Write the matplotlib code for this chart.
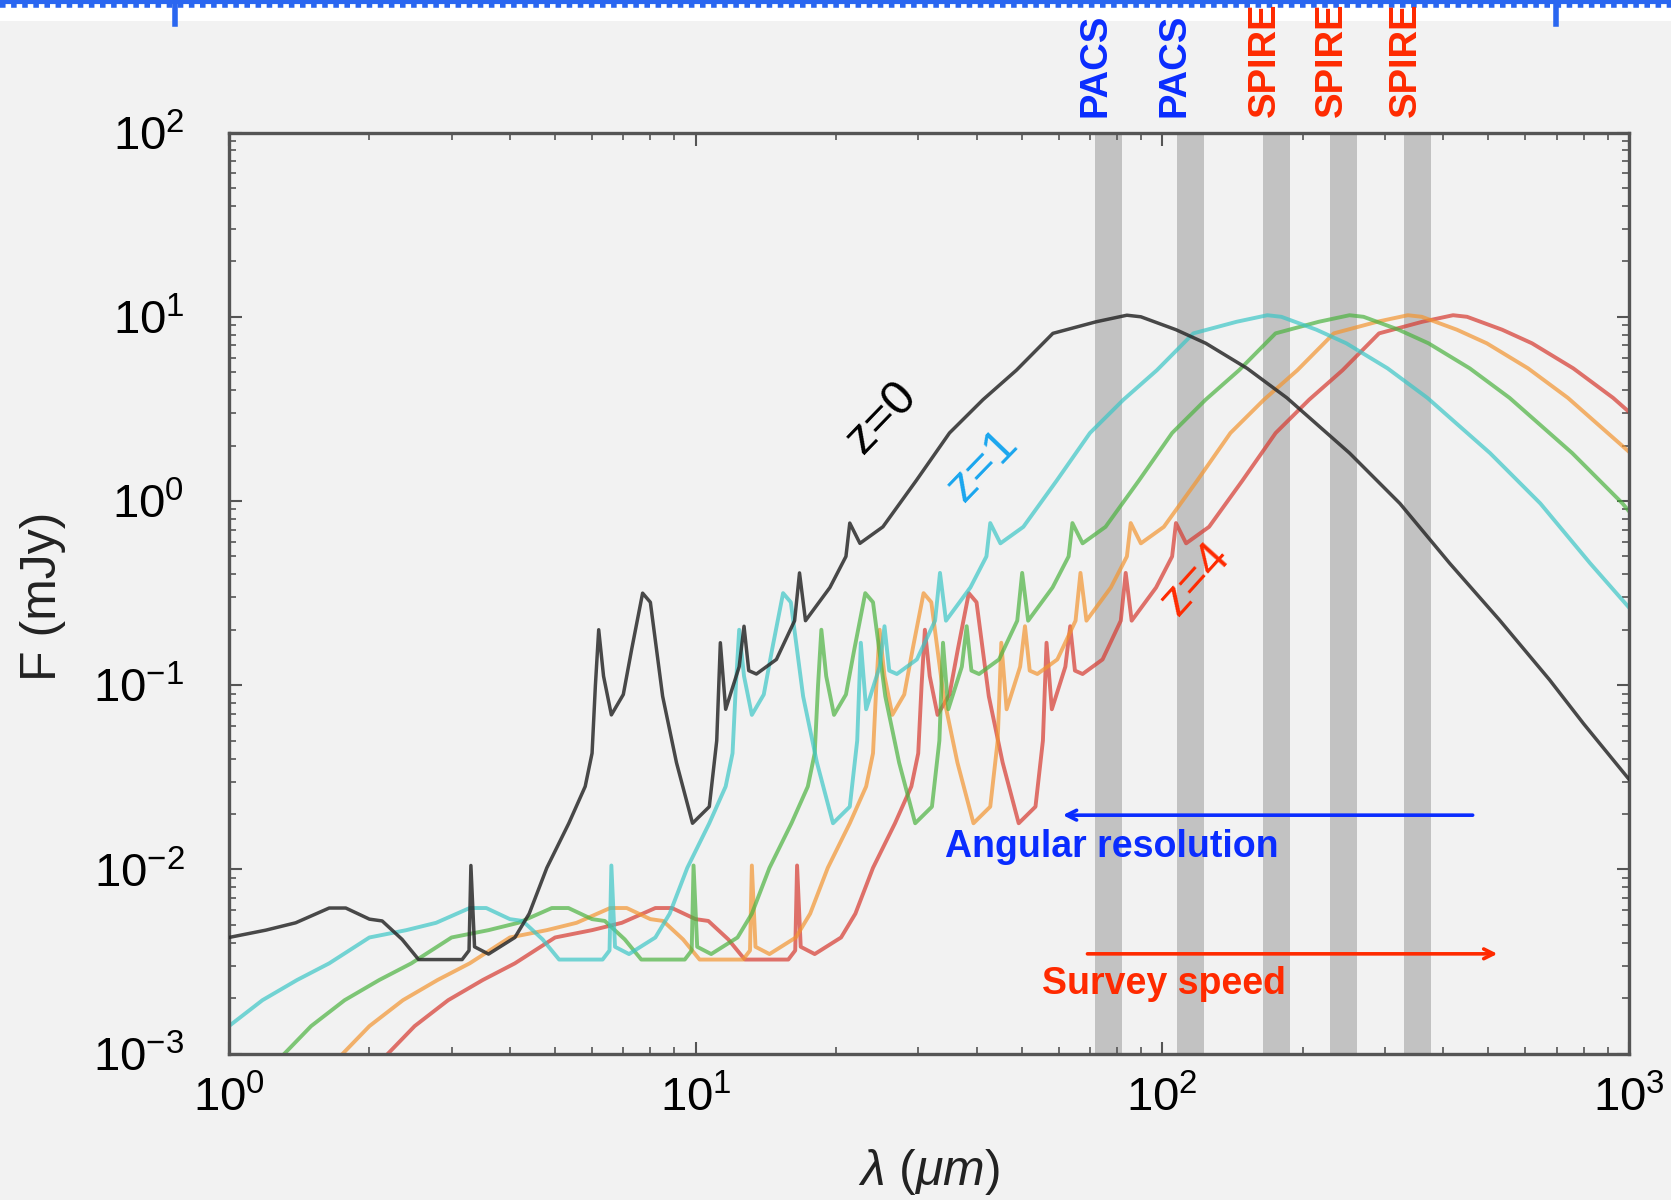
import matplotlib
matplotlib.use("Agg")
import matplotlib.pyplot as plt
from matplotlib.patches import Rectangle
from matplotlib.lines import Line2D

plt.rcParams["font.family"] = ["Liberation Sans", "DejaVu Sans"]
plt.rcParams["mathtext.fontset"] = "custom"
plt.rcParams["mathtext.rm"] = "Liberation Sans"
plt.rcParams["mathtext.it"] = "Liberation Sans:italic"
plt.rcParams["mathtext.bf"] = "Liberation Sans:bold"

# SED flux (mJy), shared by all redshifts (curves are the same template, shifted in wavelength)
sed_flux = [7.1e-4, 9.5e-4, 1.41e-3, 1.95e-3, 2.51e-3, 3.09e-3, 4.27e-3, 4.68e-3, 5.13e-3, 6.17e-3,
            6.17e-3, 5.37e-3, 5.25e-3, 4.17e-3, 3.24e-3, 3.24e-3, 3.63e-3, 1.05e-2, 3.80e-3, 3.47e-3,
            4.27e-3, 5.75e-3, 1.02e-2, 1.78e-2, 2.82e-2, 4.27e-2, 0.100, 0.200, 0.112, 0.069,
            0.089, 0.158, 0.316, 0.282, 0.087, 0.038, 0.0178, 0.0219, 0.050, 0.170,
            0.074, 0.126, 0.209, 0.120, 0.115, 0.138, 0.224, 0.407, 0.224, 0.339,
            0.50, 0.759, 0.589, 0.724, 1.29, 2.34, 3.55, 5.13,
            8.13, 9.40, 10.2, 10.0, 8.51, 7.18, 5.25, 3.63, 1.82, 0.970, 0.459, 0.226, 0.107, 0.0617, 0.0309]

# observed wavelengths (micron) for each curve
lam_z0 = [0.40, 0.43, 0.50, 0.59, 0.70, 0.82, 1.00, 1.20, 1.39, 1.64,
          1.78, 2.00, 2.13, 2.35, 2.55, 3.16, 3.27, 3.30, 3.36, 3.60,
          4.10, 4.40, 4.80, 5.35, 5.80, 6.00, 6.10, 6.20, 6.35, 6.60,
          7.00, 7.30, 7.70, 8.00, 8.50, 9.10, 9.85, 10.7, 11.1, 11.3,
          11.6, 12.4, 12.7, 13.0, 13.5, 14.9, 16.3, 16.7, 17.2, 19.4,
          21.0, 21.4, 22.5, 25.2, 29.7, 35.0, 41.3, 48.7,
          58.3, 72.2, 84, 90, 107, 124, 152, 185, 252, 323, 413, 528, 676, 800, 1000]
lam_z1 = [0.80, 0.86, 1.00, 1.18, 1.40, 1.64, 2.00, 2.40, 2.78, 3.28,
          3.56, 4.00, 4.26, 4.70, 5.10, 6.32, 6.54, 6.60, 6.72, 7.20,
          8.20, 8.80, 9.60, 10.7, 11.6, 12.0, 12.2, 12.4, 12.7, 13.2,
          14.0, 14.6, 15.4, 16.0, 17.0, 18.2, 19.7, 21.4, 22.2, 22.6,
          23.2, 24.8, 25.4, 26.0, 27.0, 29.8, 32.6, 33.4, 34.4, 38.8,
          42.0, 42.8, 45.0, 50.4, 59.4, 70.0, 82.6, 97.4,
          116.6, 144.4, 168, 180, 214, 248, 304, 370, 504, 646, 826, 1056, 1352, 1600, 2000]
lam_z2 = [1.20, 1.29, 1.50, 1.77, 2.10, 2.46, 3.00, 3.60, 4.17, 4.92,
          5.34, 6.00, 6.39, 7.05, 7.65, 9.48, 9.81, 9.90, 10.08, 10.8,
          12.3, 13.2, 14.4, 16.05, 17.4, 18.0, 18.3, 18.6, 19.05, 19.8,
          21.0, 21.9, 23.1, 24.0, 25.5, 27.3, 29.55, 32.1, 33.3, 33.9,
          34.8, 37.2, 38.1, 39.0, 40.5, 44.7, 48.9, 50.1, 51.6, 58.2,
          63.0, 64.2, 67.5, 75.6, 89.1, 105, 123.9, 146.1,
          174.9, 216.6, 252, 270, 321, 372, 456, 555, 756, 969, 1239, 1584, 2028, 2400, 3000]
lam_z3 = [1.60, 1.72, 2.00, 2.36, 2.80, 3.28, 4.00, 4.80, 5.56, 6.56,
          7.12, 8.00, 8.52, 9.40, 10.2, 12.64, 13.08, 13.2, 13.44, 14.4,
          16.4, 17.6, 19.2, 21.4, 23.2, 24.0, 24.4, 24.8, 25.4, 26.4,
          28.0, 29.2, 30.8, 32.0, 34.0, 36.4, 39.4, 42.8, 44.4, 45.2,
          46.4, 49.6, 50.8, 52.0, 54.0, 59.6, 65.2, 66.8, 68.8, 77.6,
          84.0, 85.6, 90.0, 100.8, 118.8, 140, 165.2, 194.8,
          233.2, 288.8, 336, 360, 428, 496, 608, 740, 1008, 1292, 1652, 2112, 2704, 3200, 4000]
lam_z4 = [2.00, 2.15, 2.50, 2.95, 3.50, 4.10, 5.00, 6.00, 6.95, 8.20,
          8.90, 10.0, 10.65, 11.75, 12.75, 15.8, 16.35, 16.5, 16.8, 18.0,
          20.5, 22.0, 24.0, 26.75, 29.0, 30.0, 30.5, 31.0, 31.75, 33.0,
          35.0, 36.5, 38.5, 40.0, 42.5, 45.5, 49.25, 53.5, 55.5, 56.5,
          58.0, 62.0, 63.5, 65.0, 67.5, 74.5, 81.5, 83.5, 86.0, 97.0,
          105, 107, 112.5, 126, 148.5, 175, 206.5, 243.5,
          291.5, 361, 420, 450, 535, 620, 760, 925, 1260, 1615, 2065, 2640, 3380, 4000, 5000]

# Herschel bands (micron): PACS, PACS, SPIRE, SPIRE, SPIRE
band_names = ["PACS", "PACS", "SPIRE", "SPIRE", "SPIRE"]
band_lo = [71.7, 107.6, 164.2, 229.2, 330.2]
band_hi = [81.9, 122.9, 187.6, 261.9, 377.4]
band_label_x = [71.8, 106.5, 166, 231, 333]

BLUE = "#0a2cff"
RED = "#ff2a00"

fig = plt.figure(figsize=(16.71, 12), dpi=100, facecolor="#f2f2f2")

# white strip with blue line at the very top (screenshot edge), behind everything else
fig.patches.append(Rectangle((0, 0.9825), 1, 0.0175, transform=fig.transFigure,
                             facecolor="white", edgecolor="none", zorder=-2))
fig.lines.append(Line2D([0, 1], [0.996, 0.996], transform=fig.transFigure,
                        color="#2a66f0", lw=4, ls=(0, (1, 1)), zorder=-1))
fig.lines.append(Line2D([0, 1], [0.9985, 0.9985], transform=fig.transFigure,
                        color="#2a66f0", lw=3, zorder=-1))
for xf in [0.105, 0.931]:
    fig.lines.append(Line2D([xf, xf], [0.98, 1.0], transform=fig.transFigure,
                            color="#2a66f0", lw=4, zorder=-1))

ax = fig.add_axes([0.1370, 0.1220, 0.8378, 0.7675], facecolor="#f2f2f2")

for lo, hi in zip(band_lo, band_hi):
    ax.axvspan(lo, hi, color="#c2c2c2", lw=0, zorder=0.5)

curves = [(lam_z4, "#d6392f"), (lam_z3, "#f39530"), (lam_z2, "#4cb340"), (lam_z1, "#3cc6c6")]
for lam, col in curves:
    ax.plot(lam, sed_flux, color=col, lw=2.8, alpha=0.7, zorder=2)
ax.plot(lam_z0, sed_flux, color="#2a2a2a", lw=2.5, alpha=0.85, zorder=3)

ax.set_xscale("log")
ax.set_yscale("log")
ax.set_xlim(1, 1000)
ax.set_ylim(1e-3, 1e2)

for s in ax.spines.values():
    s.set_color("#555555")
    s.set_linewidth(2.4)
ax.tick_params(which="both", direction="in", top=True, right=True, color="#555555")
ax.tick_params(which="major", length=9, width=1.5, labelsize=34, pad=16)
ax.tick_params(which="minor", length=5, width=1.2)
ax.tick_params(axis="y", which="major", pad=32)

ax.set_ylabel("F (mJy)", fontsize=36, color="#222222")
ax.yaxis.set_label_coords(-0.133, 0.496)
ax.yaxis.label.set_va("center")
ax.set_xlabel(r"$\lambda$ ($\mu m$)", fontsize=36, color="#222222")
ax.xaxis.set_label_coords(0.5, -0.1286)
ax.xaxis.label.set_va("center")

# band labels
for name, xl in zip(band_names, band_label_x):
    ax.text(xl, 1.017, name, transform=ax.get_xaxis_transform(), rotation=90,
            ha="center", va="bottom", fontsize=27.5, fontweight="bold",
            color=BLUE if name == "PACS" else RED, clip_on=False)

# redshift labels
ax.text(25.1, 2.83, "z=0", rotation=46, fontsize=35, color="black", ha="center", va="center")
ax.text(41.2, 1.55, "z=1", rotation=46, fontsize=35, color="#1aa6ee", ha="center", va="center")
ax.text(118, 0.379, "z=4", rotation=48, fontsize=35, color=RED, ha="center", va="center")

# arrows
ax.annotate("", xy=(60.4, 0.0197), xytext=(469, 0.0197),
            arrowprops=dict(arrowstyle="->,head_length=0.7,head_width=0.35", color=BLUE, lw=2.6))
ax.text(77.8, 0.0132, "Angular resolution", fontsize=27, fontweight="bold", color=BLUE,
        ha="center", va="center")
ax.annotate("", xy=(530, 3.48e-3), xytext=(68.2, 3.48e-3),
            arrowprops=dict(arrowstyle="->,head_length=0.7,head_width=0.35", color=RED, lw=2.6))
ax.text(101, 2.4e-3, "Survey speed", fontsize=27, fontweight="bold", color=RED,
        ha="center", va="center")

fig.savefig("out.png", dpi=100, facecolor=fig.get_facecolor())
